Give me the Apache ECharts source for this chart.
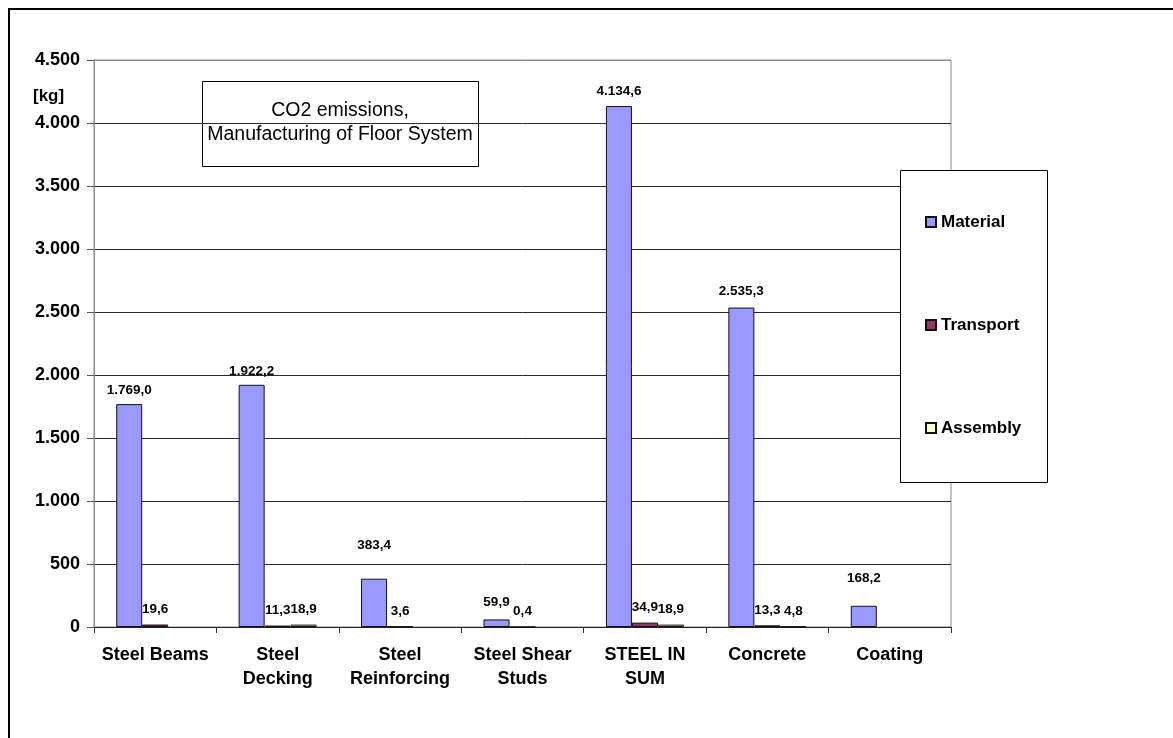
<!DOCTYPE html>
<html>
<head>
<meta charset="utf-8">
<title>CO2 emissions, Manufacturing of Floor System</title>
<script src="https://cdn.jsdelivr.net/npm/echarts@6/dist/echarts.min.js"></script>
<style>
  html, body { margin: 0; padding: 0; background: #fff; }
  #chart { width: 1173px; height: 738px; }
</style>
</head>
<body>
<div id="chart"></div>
<script>
// Floor system components
const categories = ['Steel Beams', 'Steel\nDecking', 'Steel\nReinforcing', 'Steel Shear\nStuds', 'STEEL IN\nSUM', 'Concrete', 'Coating'];
// CO2 emissions in kg per phase
const material  = [1769.0, 1922.2, 383.4, 59.9, 4134.6, 2535.3, 168.2];
const transport = [19.6, 11.3, 3.6, 0.4, 34.9, 13.3, null];
const assembly  = [null, 18.9, null, null, 18.9, 4.8, null];
const seriesNames = ['Material', 'Transport', 'Assembly'];
const yTicks = { min: 0, max: 4500, step: 500 };

const FONT = 'Liberation Sans, Arial, Helvetica, sans-serif';

// European number style: 1.769,0
function fmt(v, decimals) {
  const parts = v.toFixed(decimals).split('.');
  parts[0] = parts[0].replace(/\B(?=(\d{3})+(?!\d))/g, '.');
  return parts.length > 1 ? parts[0] + ',' + parts[1] : parts[0];
}

// label lift above each material bar
const materialLift = [7, 7, 26, 10, 8, 9, 21];

function buildData(values, lifts) {
  return values.map((v, i) => {
    if (v === null) return '-';
    const item = { value: v };
    if (lifts) item.label = { distance: lifts[i] };
    return item;
  });
}

const colors = ['#9999FF', '#993366', '#FFFFCC'];
const seriesValues = [material, transport, assembly];

const gridTop = 60, gridLeft = 94, gridW = 857, gridH = 567;

const splitColors = [];
for (let v = yTicks.min; v <= yTicks.max; v += yTicks.step) {
  splitColors.push(v === yTicks.max ? '#8a8a8a' : '#2a2a2a');
}

const chart = echarts.init(document.getElementById('chart'), null, { renderer: 'canvas' });

chart.setOption({
  animation: false,
  backgroundColor: '#ffffff',
  textStyle: { fontFamily: FONT },
  grid: {
    left: gridLeft, top: gridTop, width: gridW, height: gridH,
    show: true, borderColor: '#8a8a8a', borderWidth: 1, backgroundColor: 'transparent'
  },
  legend: {
    orient: 'vertical',
    left: 925, top: 212,
    padding: 0,
    itemWidth: 10, itemHeight: 10,
    itemGap: 83,
    icon: 'rect',
    data: seriesNames,
    textStyle: { fontFamily: FONT, fontSize: 17, fontWeight: 'bold', color: '#000', lineHeight: 20 },
    selectedMode: false
  },
  xAxis: {
    type: 'category',
    data: categories,
    axisLine: { show: true, lineStyle: { color: '#222', width: 1 } },
    axisTick: { show: true, alignWithLabel: false, length: 6, inside: false, lineStyle: { color: '#333' } },
    axisLabel: {
      interval: 0, margin: 16,
      fontFamily: FONT, fontSize: 18, fontWeight: 'bold', color: '#000', lineHeight: 24
    },
    splitLine: { show: false }
  },
  yAxis: {
    type: 'value',
    min: yTicks.min, max: yTicks.max, interval: yTicks.step,
    axisLine: { show: true, lineStyle: { color: '#8a8a8a', width: 1 } },
    axisTick: { show: true, length: 7, lineStyle: { color: '#555' } },
    axisLabel: {
      margin: 14,
      fontFamily: FONT, fontSize: 18, fontWeight: 'bold', color: '#000',
      formatter: v => fmt(v, 0)
    },
    splitLine: { show: true, lineStyle: { color: splitColors, width: 1 } }
  },
  series: seriesValues.map((vals, k) => ({
    name: seriesNames[k],
    type: 'bar',
    barWidth: 26,
    barGap: '0%',
    data: buildData(vals, k === 0 ? materialLift : null),
    itemStyle: { color: colors[k], borderColor: '#111', borderWidth: 1 },
    label: {
      show: true,
      position: 'top',
      distance: 8,
      fontFamily: FONT, fontSize: 13.5, fontWeight: 'bold', color: '#000',
      formatter: p => (typeof p.value === 'number' ? fmt(p.value, 1) : '')
    },
    z: 3
  })),
  graphic: [
    // outer frame
    {
      type: 'rect', silent: true, z: 100,
      shape: { x: 9, y: 9, width: 1200, height: 800 },
      style: { fill: 'none', stroke: '#000', lineWidth: 2 }
    },
    // unit label
    {
      type: 'text', left: 33, top: 88, z: 100,
      style: { text: '[kg]', font: 'bold 17px ' + FONT, fill: '#000' }
    },
    // title box
    {
      type: 'group', left: 202, top: 81, z: 100,
      children: [
        {
          type: 'rect',
          shape: { x: 0.5, y: 0.5, width: 276, height: 85 },
          style: { fill: '#fff', stroke: '#000', lineWidth: 1 }
        },
        {
          type: 'text',
          x: 138, y: 42,
          style: {
            text: 'CO2 emissions,\nManufacturing of Floor System',
            font: '19.5px ' + FONT, fill: '#000',
            align: 'center', verticalAlign: 'middle', lineHeight: 24
          }
        }
      ]
    },
    // legend box
    {
      type: 'rect', z: 1, silent: true,
      shape: { x: 900.5, y: 170.5, width: 147, height: 312 },
      style: { fill: '#fff', stroke: '#000', lineWidth: 1 }
    }
  ]
});
</script>
</body>
</html>
